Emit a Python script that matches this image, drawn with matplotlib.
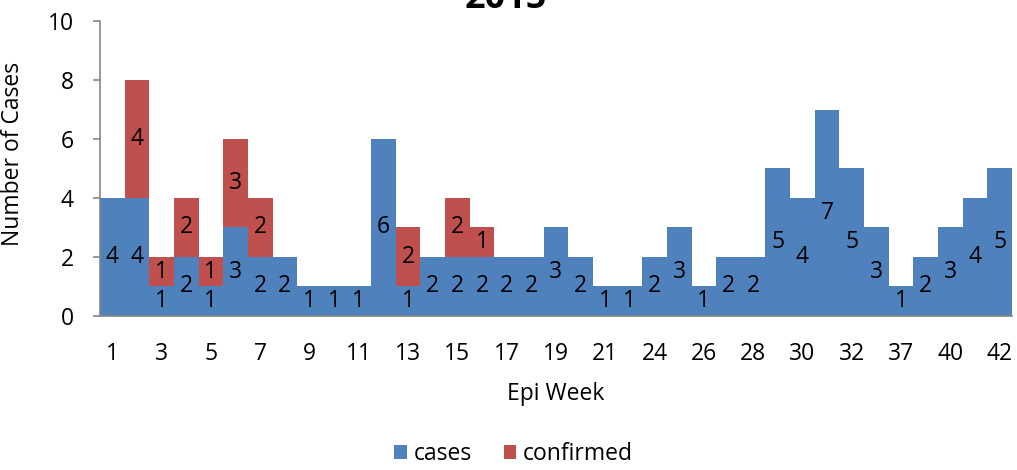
import numpy as np
import matplotlib
matplotlib.use("Agg")
import matplotlib.pyplot as plt

# epi weeks shown on the chart (some weeks missing)
weeks = [1, 2, 3, 4, 5, 6, 7, 8, 9, 10, 11, 12, 13, 14, 15, 16, 17, 18, 19, 20, 21,
         22, 24, 25, 26, 27, 28, 29, 30, 31, 32, 33, 37, 38, 40, 41, 42]
cases = [4, 4, 1, 2, 1, 3, 2, 2, 1, 1, 1, 6, 1, 2, 2, 2, 2, 2, 3, 2, 1,
         1, 2, 3, 1, 2, 2, 5, 4, 7, 5, 3, 1, 2, 3, 4, 5]
confirmed = [0, 4, 1, 2, 1, 3, 2, 0, 0, 0, 0, 0, 2, 0, 2, 1, 0, 0, 0, 0, 0,
             0, 0, 0, 0, 0, 0, 0, 0, 0, 0, 0, 0, 0, 0, 0, 0]

blue = "#4F81BD"
red = "#C0504D"
fs = 16.5

plt.rcParams['font.family'] = ['Open Sans', 'DejaVu Sans']

fig = plt.figure(figsize=(10.17, 4.70), dpi=100)
ax = fig.add_axes([0.0983, 0.3277, 0.8967, 0.6276])

x = np.arange(len(weeks))
cases = np.array(cases)
confirmed = np.array(confirmed)
b1 = ax.bar(x, cases, width=1.0, color=blue, label="cases")
b2 = ax.bar(x, confirmed, width=1.0, bottom=cases, color=red, label="confirmed")

# value labels in the middle of each segment
for i in range(len(x)):
    if cases[i] > 0:
        ax.text(x[i], cases[i] / 2, str(cases[i]), ha="center", va="center", fontsize=fs)
    if confirmed[i] > 0:
        ax.text(x[i], cases[i] + confirmed[i] / 2, str(confirmed[i]),
                ha="center", va="center", fontsize=fs)

ax.set_xlim(-0.5, len(x) - 0.5)
ax.set_ylim(0, 10)
ax.set_yticks([0, 2, 4, 6, 8, 10])
ax.set_xticks(x[::2])
ax.set_xticklabels([str(w) for w in weeks[::2]])
ax.tick_params(axis="y", labelsize=fs, length=5, color="#868686", width=1.2, pad=14)
ax.tick_params(axis="x", labelsize=fs, length=0, pad=19)

for s in ["top", "right"]:
    ax.spines[s].set_visible(False)
for s in ["left", "bottom"]:
    ax.spines[s].set_color("#868686")
    ax.spines[s].set_linewidth(1.2)

ax.set_ylabel("Number of Cases", fontsize=fs)
ax.yaxis.set_label_coords(-0.082, 0.55)
ax.set_xlabel("Epi Week", fontsize=fs)
ax.xaxis.set_label_coords(0.5, -0.225)

# title sits partly above the picture edge, as in the original
fig.text(0.4975, 0.983, "2015", ha="center", va="baseline", fontsize=26, fontweight="bold")

fig.legend(handles=[b1, b2], labels=["cases", "confirmed"], loc="lower center",
           bbox_to_anchor=(0.505, -0.035), ncol=2, frameon=False, fontsize=fs,
           handlelength=0.55, handleheight=0.55, handletextpad=0.3, columnspacing=1.4)

fig.savefig("out.png", dpi=100)
